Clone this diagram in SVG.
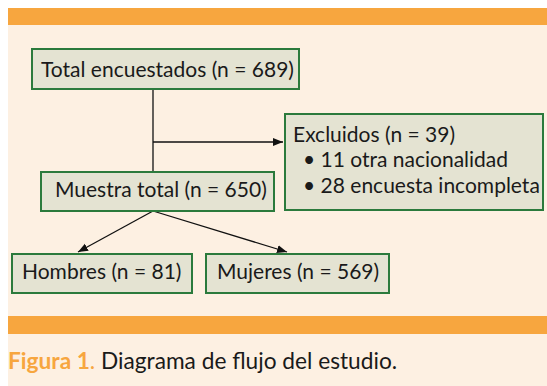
<svg xmlns="http://www.w3.org/2000/svg" width="547" height="386" viewBox="0 0 547 386">
<defs>
<style>
.box{fill:#e4e3d2;stroke:#2b7a3c;stroke-width:2}
.t{font-family:Lato,"Open Sans",sans-serif;font-size:21px;fill:#1a1a1a}
.ln{stroke:#111;stroke-width:1.3;fill:none}
.band{fill:#f7a63f}
</style>
<marker id="ah" viewBox="0 0 10 10" refX="10" refY="5" markerWidth="10" markerHeight="10" markerUnits="userSpaceOnUse" orient="auto">
<path d="M0,1 L10,5 L0,9 z" fill="#111"/>
</marker>
</defs>
<rect x="0" y="0" width="547" height="386" fill="#ffffff"/>
<rect x="8" y="8" width="539" height="378" fill="#fdf0e2"/>
<rect class="band" x="8" y="8" width="539" height="17"/>
<rect class="band" x="8" y="316" width="539" height="18"/>
<g id="connectors">
<line class="ln" x1="153" y1="89" x2="153" y2="171"/>
<line class="ln" x1="153" y1="142" x2="283" y2="142" marker-end="url(#ah)"/>
<line class="ln" x1="153" y1="211" x2="78" y2="252" marker-end="url(#ah)"/>
<line class="ln" x1="153" y1="211" x2="287" y2="252" marker-end="url(#ah)"/>
</g>
<g id="total">
<rect class="box" x="32" y="49" width="267" height="40"/>
<text class="t" x="41" y="77">Total encuestados (n = 689)</text>
</g>
<g id="excluidos">
<rect class="box" x="285" y="114" width="258" height="96"/>
<text class="t" x="293" y="142">Excluidos (n = 39)</text>
<text class="t" x="303" y="167">• 11 otra nacionalidad</text>
<text class="t" x="303" y="193">• 28 encuesta incompleta</text>
</g>
<g id="muestra">
<rect class="box" x="41" y="172" width="233" height="39"/>
<text class="t" x="55" y="197">Muestra total (n = 650)</text>
</g>
<g id="hombres">
<rect class="box" x="12" y="254" width="180" height="39"/>
<text class="t" x="22" y="279">Hombres (n = 81)</text>
</g>
<g id="mujeres">
<rect class="box" x="206" y="254" width="183" height="39"/>
<text class="t" x="217" y="279">Mujeres (n = 569)</text>
</g>
<text x="8" y="369" style="font-family:Lato,'Open Sans',sans-serif;font-size:22.7px"><tspan fill="#f7a63f" font-weight="bold">Figura 1</tspan><tspan fill="#f7a63f">. </tspan><tspan fill="#1a1a1a">Diagrama de flujo del estudio.</tspan></text>
</svg>
